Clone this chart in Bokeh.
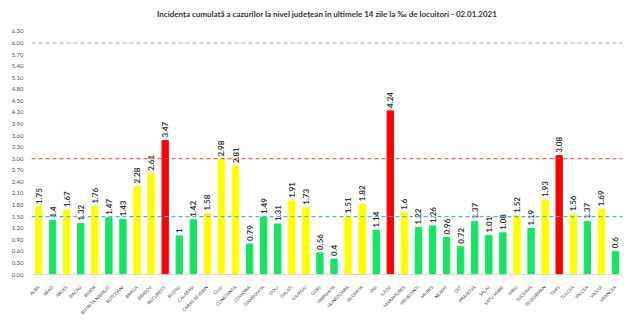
import math
from bokeh.plotting import figure
from bokeh.models import ColumnDataSource, FactorRange, Range1d, FixedTicker, Span, NumeralTickFormatter
from bokeh.core.properties import value
from bokeh.embed import file_html
from bokeh.resources import INLINE

counties = ["ALBA", "ARAD", "ARGES", "BACAU", "BIHOR", "BISTRITA NASAUD", "BOTOSANI",
            "BRAILA", "BRASOV", "BUCURESTI", "BUZAU", "CALARASI", "CARAS-SEVERIN", "CLUJ",
            "CONSTANTA", "COVASNA", "DAMBOVITA", "DOLJ", "GALATI", "GIURGIU", "GORJ",
            "HARGHITA", "HUNEDOARA", "IALOMITA", "IASI", "ILFOV", "MARAMURES", "MEHEDINTI",
            "MURES", "NEAMT", "OLT", "PRAHOVA", "SALAJ", "SATU MARE", "SIBIU", "SUCEAVA",
            "TELEORMAN", "TIMIS", "TULCEA", "VALCEA", "VASLUI", "VRANCEA"]
incidence = [1.75, 1.4, 1.67, 1.32, 1.76, 1.47, 1.43, 2.28, 2.61, 3.47, 1, 1.42, 1.58, 2.98,
             2.81, 0.79, 1.49, 1.31, 1.91, 1.73, 0.56, 0.4, 1.51, 1.82, 1.14, 4.24, 1.6, 1.22,
             1.26, 0.96, 0.72, 1.37, 1.01, 1.08, 1.52, 1.19, 1.93, 3.08, 1.56, 1.37, 1.69, 0.6]
y_ticks = [0.0, 0.3, 0.6, 0.9, 1.2, 1.5, 1.8, 2.1, 2.4, 2.7, 3.0, 3.3, 3.6, 3.9, 4.2, 4.5,
           4.8, 5.1, 5.4, 5.7, 6.0, 6.3]
thresholds = [1.5, 3.0, 6.0]
threshold_colors = ["#4fb3e8", "#e8403a", "#c58fd6"]

GREEN, YELLOW, RED = "#17e463", "#ffff00", "#ff0000"

def bar_color(v):
    if v > thresholds[1]:
        return RED
    if v >= thresholds[0]:
        return YELLOW
    return GREEN

src = ColumnDataSource(dict(
    county=counties,
    val=incidence,
    label=[f"{v:g}" for v in incidence],
    color=[bar_color(v) for v in incidence],
))

FONT = "Lato"
p = figure(width=624, height=328, x_range=FactorRange(*counties), y_range=Range1d(0, 6.35),
           output_backend="svg", toolbar_location=None,
           title="Incidența cumulată a cazurilor la nivel județean în ultimele 14 zile la ‰ de locuitori - 02.01.2021",
           min_border_left=31, min_border_right=2, min_border_top=6, min_border_bottom=54)
p.title.align = "center"
p.title.vertical_align = "top"
p.title.text_font = FONT
p.title.text_font_size = "8px"
p.title.text_font_style = "bold"
p.title.text_color = "#333333"
p.title.offset = 0
p.title.standoff = 17

p.vbar(x="county", top="val", width=0.45, color="color", source=src)
p.text(x="county", y="val", text="label", source=src, angle=math.pi / 2,
       text_align="left", text_baseline="middle", y_offset=-3,
       text_font=value(FONT), text_font_size="8px", text_font_style="bold",
       text_color="#333333")

for t, c in zip(thresholds, threshold_colors):
    p.add_layout(Span(location=t, dimension="width", line_color=c, line_width=1.2,
                      line_dash="4 3"))

p.xgrid.grid_line_color = None
p.ygrid.grid_line_color = None
p.outline_line_color = None
p.background_fill_color = "white"
p.border_fill_color = "white"

p.yaxis.ticker = FixedTicker(ticks=y_ticks)
p.yaxis.formatter = NumeralTickFormatter(format="0.00")
p.yaxis.axis_line_color = None
p.yaxis.major_tick_line_color = None
p.yaxis.minor_tick_line_color = None
p.yaxis.major_label_text_font = FONT
p.yaxis.major_label_text_font_size = "6px"
p.yaxis.major_label_text_color = "#555555"
p.yaxis.major_label_standoff = 2

p.xaxis.axis_line_color = "#d9d9d9"
p.xaxis.major_tick_line_color = None
p.xaxis.major_label_orientation = math.pi / 4
p.xaxis.major_label_text_font = FONT
p.xaxis.major_label_text_font_size = "4.5px"
p.xaxis.major_label_text_color = "#444444"
p.xaxis.major_label_standoff = 6

open("out.html", "w").write(file_html(p, INLINE))
